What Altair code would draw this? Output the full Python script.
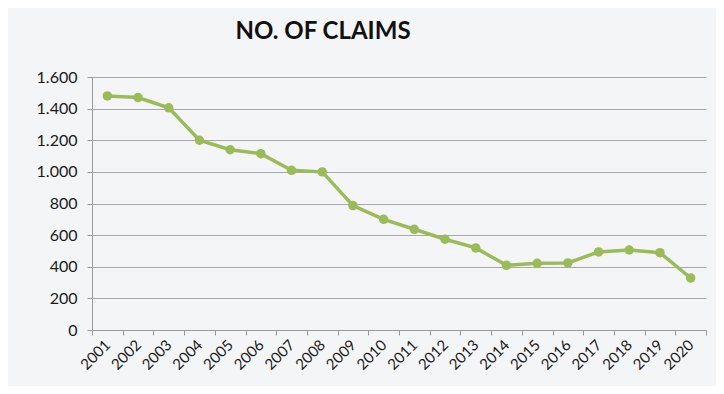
import altair as alt
import pandas as pd

years = [str(y) for y in range(2001, 2021)]
claims = [1480, 1470, 1405, 1200, 1140, 1115, 1010, 1000, 787, 700,
          637, 574, 519, 409, 422, 424, 494, 506, 489, 329]

df = pd.DataFrame({"year": years, "claims": claims})

FONT = "Lato"
GREEN = "#9bbb59"

x = alt.X("year:O", title=None, bandPosition=0.5,
          scale=alt.Scale(type="band", paddingInner=0, paddingOuter=0),
          axis=alt.Axis(labelAngle=-45, labelAlign="right", labelBaseline="middle",
                        tickBand="extent", tickSize=5, labelPadding=7,
                        labelFont=FONT, labelFontSize=15, labelColor="#1a1a1a",
                        domainColor="#9a9a9a", tickColor="#9a9a9a", grid=False))
y = alt.Y("claims:Q", title=None,
          scale=alt.Scale(domain=[0, 1600], nice=False),
          axis=alt.Axis(values=[0, 200, 400, 600, 800, 1000, 1200, 1400, 1600],
                        labelExpr="replace(format(datum.value, ','), ',', '.')",
                        labelFont=FONT, labelFontSize=16, labelColor="#1a1a1a",
                        tickSize=5, labelPadding=10, domainColor="#9a9a9a",
                        tickColor="#9a9a9a", gridColor="#a8a8a8", gridWidth=1.2))

base = alt.Chart(df)
line = base.mark_line(color=GREEN, strokeWidth=3.5).encode(x=x, y=y)
pts = base.mark_circle(color=GREEN, size=90, opacity=1).encode(x=x, y=y)

chart = (line + pts).properties(
    width=614, height=253,
    title=alt.TitleParams("NO. OF CLAIMS", font=FONT, fontSize=24, fontWeight="bold",
                          color="#111111", anchor="middle", dx=-76, offset=25),
    autosize=alt.AutoSizeParams(type="none"),
    padding={"left": 84, "top": 69, "right": 10, "bottom": 56},
).configure(background="#f4f5f7").configure_view(stroke=None)

chart.save("out.html", embed_options={"renderer": "svg", "actions": False})
